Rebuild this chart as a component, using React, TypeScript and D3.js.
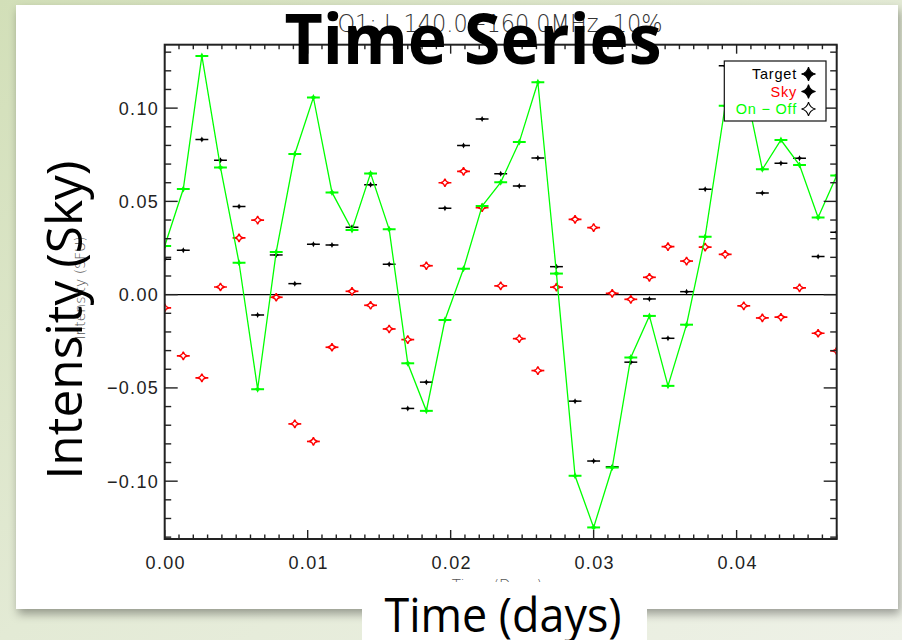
import React from 'react';
import * as d3 from 'd3';

// time of each sample (days)
const times = [
  0.0000, 0.0013, 0.0026, 0.0039, 0.0052, 0.0065, 0.0078, 0.0091, 0.0104, 0.0117,
  0.0131, 0.0144, 0.0157, 0.0170, 0.0183, 0.0196, 0.0209, 0.0222, 0.0235, 0.0248,
  0.0261, 0.0274, 0.0287, 0.0300, 0.0313, 0.0326, 0.0339, 0.0352, 0.0365, 0.0378,
  0.0392, 0.0405, 0.0418, 0.0431, 0.0444, 0.0457, 0.0470,
];

const target = [
  0.0190, 0.0238, 0.0832, 0.0721, 0.0473, -0.0109, 0.0213, 0.0059, 0.0270, 0.0266,
  0.0361, 0.0589, 0.0163, -0.0610, -0.0469, 0.0463, 0.0800, 0.0941, 0.0648, 0.0582,
  0.0732, 0.0150, -0.0571, -0.0892, -0.0923, -0.0362, -0.0023, -0.0234, 0.0016, 0.0565,
  0.1227, 0.1088, 0.0545, 0.0704, 0.0731, 0.0204, 0.0334,
];

const sky = [
  -0.0071, -0.0328, -0.0446, 0.0041, 0.0304, 0.0400, -0.0014, -0.0693, -0.0787, -0.0282,
  0.0018, -0.0057, -0.0184, -0.0241, 0.0155, 0.0600, 0.0661, 0.0466, 0.0047, -0.0236,
  -0.0407, 0.0040, 0.0404, 0.0359, 0.0007, -0.0025, 0.0093, 0.0257, 0.0180, 0.0255,
  0.0216, -0.0060, -0.0125, -0.0121, 0.0036, -0.0207, -0.0302,
];

const onOff = [
  0.0261, 0.0566, 0.1280, 0.0682, 0.0171, -0.0507, 0.0229, 0.0754, 0.1057, 0.0548,
  0.0347, 0.0650, 0.0350, -0.0368, -0.0623, -0.0136, 0.0139, 0.0475, 0.0602, 0.0818,
  0.1139, 0.0113, -0.0971, -0.1248, -0.0927, -0.0337, -0.0114, -0.0489, -0.0161, 0.0311,
  0.1013, 0.1150, 0.0672, 0.0829, 0.0695, 0.0414, 0.0639,
];

// half width of the time bins (days)
const timeErr = 0.00045;

const xTicks = [0, 0.01, 0.02, 0.03, 0.04];
const xTickLabels = ['0.00', '0.01', '0.02', '0.03', '0.04'];
const yTicks = [-0.1, -0.05, 0, 0.05, 0.1];
const yTickLabels = ['\u22120.10', '\u22120.05', '0.00', '0.05', '0.10'];

const legendLabels = ['Target', 'Sky', 'On \u2212 Off'];
const legendColors = ['#000', '#ff0000', '#00ff00'];

const W = 902;
const H = 640;
const plot = { left: 164.7, right: 836.7, top: 44.7, bottom: 539 };
const GREEN = '#00ff00';

// four pointed star with concave sides
const star = (r: number) => {
  const c = r * 0.18;
  return `M0,${-r}Q${c},${-c} ${r},0Q${c},${c} 0,${r}Q${-c},${c} ${-r},0Q${-c},${-c} 0,${-r}Z`;
};

const App = () => {
  const x = d3.scaleLinear().domain([0, 0.047]).range([plot.left, plot.right]);
  const y = d3.scaleLinear().domain([-0.131, 0.134]).range([plot.bottom, plot.top]);

  const line = d3.line<number>()
    .x((d, i) => x(times[i]))
    .y(d => y(d));

  const xMinor = d3.range(0, 48).map(i => i / 1000);
  const yMinor = d3.range(-13, 14).map(i => i / 100);

  const tickFont = { fontFamily: 'Liberation Sans, sans-serif', fontSize: 18, letterSpacing: 1.3, fill: '#222' };

  return (
    <svg width={W} height={H} style={{ position: 'absolute', left: 0, top: 0 }}>
      <defs>
        <linearGradient id="bg" x1="0" y1="0" x2="1" y2="1">
          <stop offset="0" stopColor="#d2dfb8" />
          <stop offset="0.5" stopColor="#e3ead5" />
          <stop offset="1" stopColor="#eef1e7" />
        </linearGradient>
        <filter id="shadow" x="-5%" y="-5%" width="110%" height="115%">
          <feDropShadow dx="2" dy="5" stdDeviation="5" floodColor="#000" floodOpacity="0.35" />
        </filter>
        <clipPath id="plotClip">
          <rect x={plot.left} y={plot.top} width={plot.right - plot.left} height={plot.bottom - plot.top} />
        </clipPath>
      </defs>

      <rect x={0} y={0} width={W} height={H} fill="url(#bg)" />
      <rect x={16} y={5} width={882} height={604} fill="#fff" filter="url(#shadow)" />

      {/* zero line */}
      <line x1={plot.left} x2={plot.right} y1={y(0)} y2={y(0)} stroke="#000" strokeWidth={1.2} />

      <g clipPath="url(#plotClip)">
        {/* Sky */}
        {sky.map((v, i) => (
          <g key={'s' + i} transform={`translate(${x(times[i])},${y(v)})`}>
            <line x1={x(times[i] - timeErr) - x(times[i])} x2={x(times[i] + timeErr) - x(times[i])} stroke="#ff0000" strokeWidth={1.7} />
            <path d={star(4.2)} fill="#fff" stroke="#ff0000" strokeWidth={1.3} />
          </g>
        ))}
        {/* Target */}
        {target.map((v, i) => (
          <g key={'t' + i} transform={`translate(${x(times[i])},${y(v)})`}>
            <line x1={x(times[i] - timeErr) - x(times[i])} x2={x(times[i] + timeErr) - x(times[i])} stroke="#000" strokeWidth={1.5} />
            <path d={star(3)} fill="#000" />
          </g>
        ))}
        {/* On - Off */}
        <path d={line(onOff) || ''} fill="none" stroke={GREEN} strokeWidth={1.3} />
        {onOff.map((v, i) => (
          <g key={'o' + i} transform={`translate(${x(times[i])},${y(v)})`}>
            <line x1={x(times[i] - timeErr) - x(times[i])} x2={x(times[i] + timeErr) - x(times[i])} stroke={GREEN} strokeWidth={2} />
            <path d={star(3.5)} fill={GREEN} />
          </g>
        ))}
      </g>

      {/* ticks */}
      <g stroke="#222" strokeWidth={1.4}>
        {xMinor.map(t => {
          const major = Math.round(t * 1000) % 10 === 0;
          const len = major ? 9 : 4.5;
          return (
            <g key={'xm' + t}>
              <line x1={x(t)} x2={x(t)} y1={plot.bottom} y2={plot.bottom - len} />
              <line x1={x(t)} x2={x(t)} y1={plot.top} y2={plot.top + len} />
            </g>
          );
        })}
        {yMinor.map(t => {
          const major = Math.round(t * 100) % 5 === 0;
          const len = major ? 13 : 6.5;
          return (
            <g key={'ym' + t}>
              <line x1={plot.left} x2={plot.left + len} y1={y(t)} y2={y(t)} />
              <line x1={plot.right} x2={plot.right - len} y1={y(t)} y2={y(t)} />
            </g>
          );
        })}
      </g>
      <rect x={plot.left} y={plot.top} width={plot.right - plot.left} height={plot.bottom - plot.top}
        fill="none" stroke="#222" strokeWidth={2} />

      {xTicks.map((t, i) => (
        <text key={'xl' + i} x={x(t) + 1} y={569} textAnchor="middle" style={tickFont}>{xTickLabels[i]}</text>
      ))}
      {yTicks.map((t, i) => (
        <text key={'yl' + i} x={159} y={y(t) + 6.5} textAnchor="end" style={tickFont}>{yTickLabels[i]}</text>
      ))}

      {/* legend */}
      <rect x={724.3} y={61} width={101.7} height={60} fill="#fff" stroke="#111" strokeWidth={1.2} />
      {legendLabels.map((lab, i) => (
        <g key={'lg' + i}>
          <text x={797} y={79 + i * 17.5} textAnchor="end" fill={legendColors[i]}
            style={{ fontFamily: 'Liberation Sans, sans-serif', fontSize: 14.5, letterSpacing: 0.8 }}>{lab}</text>
          <path d={star(7)} transform={`translate(${808.5},${74 + i * 17.5})`}
            fill={i < 2 ? '#000' : '#fff'} stroke="#000" strokeWidth={1.1} />
        </g>
      ))}

      {/* original plot titles underneath the slide labels */}
      <text x={500} y={32} textAnchor="middle" textLength={325} lengthAdjust="spacingAndGlyphs" fill="#333"
        style={{ fontFamily: 'DejaVu Sans, sans-serif', fontSize: 24, fontWeight: 200 }}>Q1: L 140.0{'\u2212'}160.0MHz, 10%</text>
      <text transform="translate(85,288) rotate(-90)" textAnchor="middle" fill="#555"
        style={{ fontFamily: 'DejaVu Sans, sans-serif', fontSize: 14, fontWeight: 200 }}>Intensity (SFU)</text>
      <text x={497} y={591} textAnchor="middle" fill="#555"
        style={{ fontFamily: 'DejaVu Sans, sans-serif', fontSize: 15, fontWeight: 200 }}>Time (Days)</text>

      {/* slide labels */}
      <text x={473} y={64} textAnchor="middle" textLength={377} lengthAdjust="spacingAndGlyphs" fill="#000"
        style={{ fontFamily: 'Open Sans, sans-serif', fontSize: 70, fontWeight: 700 }}>Time Series</text>
      <text transform="translate(82,320) rotate(-90)" textAnchor="middle" textLength={319} lengthAdjust="spacingAndGlyphs" fill="#000"
        style={{ fontFamily: 'Open Sans, sans-serif', fontSize: 50 }}>Intensity (Sky)</text>
      <rect x={362} y={582} width={285} height={58} fill="#fff" />
      <text x={503} y={632} textAnchor="middle" textLength={237} lengthAdjust="spacingAndGlyphs" fill="#000"
        style={{ fontFamily: 'Open Sans, sans-serif', fontSize: 47 }}>Time (days)</text>
    </svg>
  );
};

export default App;
